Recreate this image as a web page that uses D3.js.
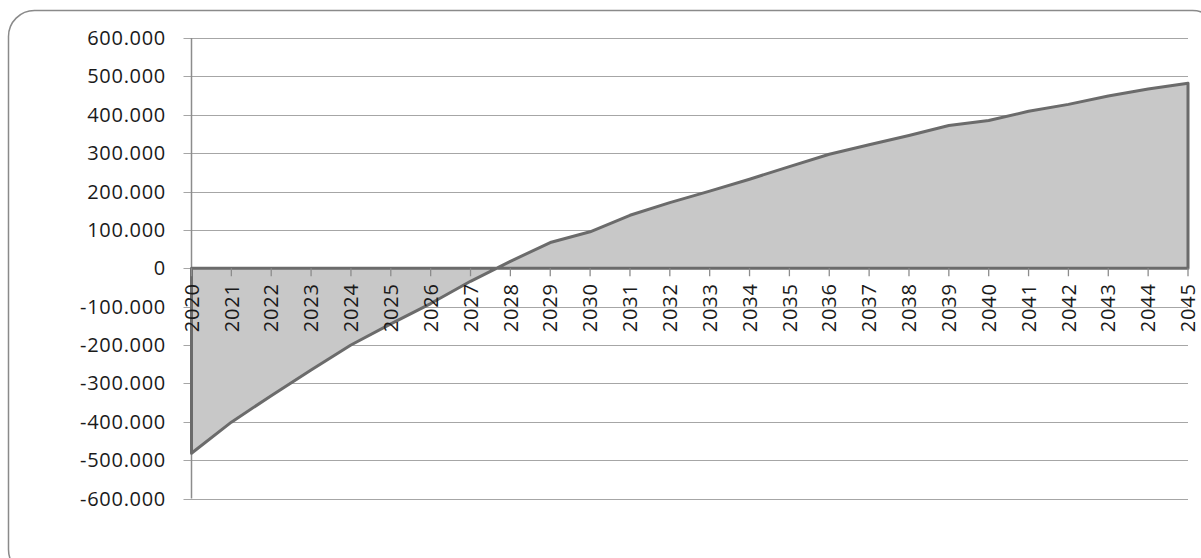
<!DOCTYPE html>
<html>
<head>
<meta charset="utf-8">
<script src="https://cdn.jsdelivr.net/npm/d3@7"></script>
<style>
  body { margin: 0; background: #fff; }
  svg text { font-family: "Open Sans", sans-serif; fill: #1a1a1a; }
</style>
</head>
<body>
<div id="chart"></div>
<script>
// years on the category axis
var years = d3.range(2020, 2046).map(String);
// values in thousands
var values = [-482, -401, -332, -265, -200, -145, -92, -34, 18, 67, 95, 138, 171, 201,
              232, 265, 297, 322, 346, 372, 385, 409, 427, 449, 467, 482];
var yTicks = [600, 500, 400, 300, 200, 100, 0, -100, -200, -300, -400, -500, -600];

(function(){
    var W = 1201, H = 558;
    var plotL = 191.5, plotR = 1188, plotT = 38, plotB = 498.5;

    var svg = d3.select('#chart').append('svg')
        .attr('width', W)
        .attr('height', H);

    // rounded frame, runs off the right and bottom edge
    svg.append('rect')
        .attr('x', 8.5).attr('y', 10.5)
        .attr('width', 1210).attr('height', 565)
        .attr('rx', 26).attr('ry', 26)
        .attr('fill', 'none')
        .attr('stroke', '#8a8a8a')
        .attr('stroke-width', 1.5);

    var x = d3.scalePoint().domain(years).range([plotL, plotR]);
    var y = d3.scaleLinear().domain([-600, 600]).range([plotB, plotT]);

    // gridlines + left ticks
    svg.append('g').selectAll('line')
        .data(yTicks)
        .enter().append('line')
            .attr('x1', plotL - 8).attr('x2', plotR)
            .attr('y1', function(d) { return Math.round(y(d)) + 0.5; })
            .attr('y2', function(d) { return Math.round(y(d)) + 0.5; })
            .attr('stroke', '#a6a6a6')
            .attr('stroke-width', 1.2);

    // excel style labels: plain hyphen, dot as thousands separator
    svg.append('g').selectAll('text')
        .data(yTicks)
        .enter().append('text')
            .attr('x', 166)
            .attr('y', function(d) { return y(d); })
            .attr('dy', '0.35em')
            .attr('text-anchor', 'end')
            .attr('font-size', 20)
            .attr('letter-spacing', 0.7)
            .text(function(d) { return d == 0 ? '0' : String(d) + '.000'; });

    // vertical axis
    svg.append('line')
        .attr('x1', plotL).attr('x2', plotL)
        .attr('y1', plotT).attr('y2', plotB)
        .attr('stroke', '#8c8c8c')
        .attr('stroke-width', 1.5);

    // area between line and zero
    var area = d3.area()
        .x(function(d, i) { return x(years[i]); })
        .y0(y(0))
        .y1(function(d) { return y(d); });

    svg.append('path')
        .datum(values)
        .attr('d', area)
        .attr('fill', '#c8c8c8')
        .attr('stroke', '#6b6b6b')
        .attr('stroke-width', 3)
        .attr('stroke-linejoin', 'round');

    // category ticks below the zero line
    svg.append('g').selectAll('line')
        .data(years)
        .enter().append('line')
            .attr('x1', function(d) { return x(d); })
            .attr('x2', function(d) { return x(d); })
            .attr('y1', y(0)).attr('y2', y(0) + 8)
            .attr('stroke', '#8c8c8c')
            .attr('stroke-width', 1.3);

    svg.append('g').selectAll('text')
        .data(years)
        .enter().append('text')
            .attr('transform', function(d) { return 'translate(' + x(d) + ',' + (y(0) + 15) + ') rotate(-90)'; })
            .attr('dy', '0.36em')
            .attr('text-anchor', 'end')
            .attr('font-size', 20)
            .attr('letter-spacing', 0.8)
            .text(function(d) { return d; });
})();
</script>
</body>
</html>
